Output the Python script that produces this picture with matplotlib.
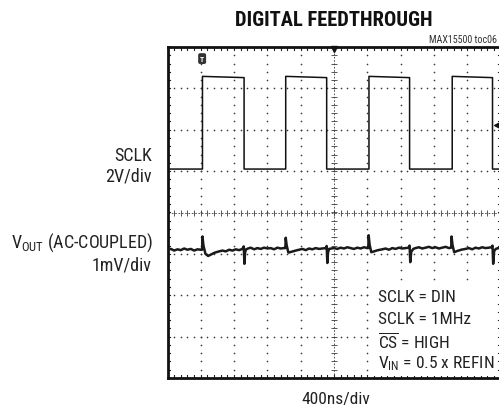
"""
Digital feedthrough scope capture (SCLK and AC-coupled VOUT)
"""

import numpy as np
import matplotlib
matplotlib.use('Agg')
import matplotlib.pyplot as plt
from matplotlib.patches import Rectangle

plt.rcParams['font.family'] = ['Roboto Condensed', 'DejaVu Sans']
plt.rcParams['mathtext.fontset'] = 'custom'
plt.rcParams['mathtext.rm'] = 'Roboto Condensed'
plt.rcParams['mathtext.it'] = 'Roboto Condensed:italic'
plt.rcParams['mathtext.bf'] = 'Roboto Condensed:bold'

# ---------------------------------------------------------------------------- #
# Data (screen divisions: x 0..10, y -4..4)
# ---------------------------------------------------------------------------- #
clk_rise = [1.05, 3.55, 6.05, 8.55]
clk_fall = [2.30, 4.78, 7.27, 9.76]
clk_low = 1.05
clk_high_start = 3.29
clk_high_end = 3.26

vout_t = [0.00, 0.10, 0.20, 0.30, 0.40, 0.50, 0.60, 0.70, 0.80, 0.90, 1.00,
          1.04, 1.05, 1.08, 1.14, 1.22, 1.32, 1.42, 1.55, 1.65, 1.75, 1.85,
          1.95, 2.05, 2.15, 2.25, 2.29, 2.31, 2.33, 2.36, 2.42, 2.50, 2.60,
          2.70, 2.80, 2.90, 3.00, 3.10, 3.20, 3.30, 3.40, 3.50, 3.54, 3.55,
          3.58, 3.63, 3.72, 3.85, 3.95, 4.05, 4.15, 4.25, 4.35, 4.45, 4.55,
          4.65, 4.75, 4.78, 4.80, 4.82, 4.85, 4.92, 5.00, 5.10, 5.20, 5.30,
          5.40, 5.50, 5.60, 5.70, 5.80, 5.90, 6.00, 6.03, 6.04, 6.07, 6.12,
          6.20, 6.32, 6.45, 6.55, 6.65, 6.75, 6.85, 6.95, 7.05, 7.15, 7.24,
          7.27, 7.29, 7.32, 7.38, 7.45, 7.55, 7.65, 7.75, 7.85, 7.95, 8.05,
          8.15, 8.25, 8.35, 8.45, 8.52, 8.53, 8.56, 8.61, 8.70, 8.82, 8.95,
          9.05, 9.15, 9.25, 9.35, 9.45, 9.55, 9.65, 9.73, 9.76, 9.78, 9.81,
          9.86, 9.93, 10.00]
vout_v = [-0.90, -0.88, -0.92, -0.89, -0.91, -0.87, -0.90, -0.88, -0.92, -0.89, -0.90,
          -0.90, -0.58, -0.80, -1.00, -1.05, -1.01, -0.97, -0.94, -0.92, -0.94, -0.90,
          -0.92, -0.89, -0.91, -0.88, -0.82, -1.24, -0.96, -0.89, -0.87, -0.85, -0.89,
          -0.86, -0.88, -0.85, -0.87, -0.86, -0.89, -0.85, -0.87, -0.86, -0.86, -0.61,
          -0.80, -0.97, -0.95, -0.92, -0.90, -0.88, -0.91, -0.87, -0.89, -0.86, -0.88,
          -0.87, -0.86, -0.81, -1.22, -0.97, -0.88, -0.87, -0.86, -0.88, -0.85, -0.87,
          -0.84, -0.86, -0.88, -0.85, -0.87, -0.84, -0.86, -0.86, -0.55, -0.78, -0.96,
          -0.94, -0.91, -0.89, -0.87, -0.90, -0.86, -0.88, -0.85, -0.87, -0.86, -0.85,
          -0.80, -1.20, -0.95, -0.88, -0.86, -0.84, -0.87, -0.85, -0.83, -0.86, -0.84,
          -0.87, -0.85, -0.83, -0.86, -0.85, -0.58, -0.79, -0.96, -0.93, -0.90, -0.88,
          -0.86, -0.89, -0.85, -0.87, -0.84, -0.86, -0.85, -0.84, -0.80, -1.24, -0.93,
          -0.88, -0.86, -0.87]

notes = [r'SCLK = DIN', r'SCLK = 1MHz', r'$\overline{\mathrm{CS}}$ = HIGH',
         r'V$_{\mathrm{IN}}$ = 0.5 x REFIN']

# ---------------------------------------------------------------------------- #
# Build clock trace from edges
# ---------------------------------------------------------------------------- #
clk_t = [0.0]
clk_v = [clk_low]
for r, f in zip(clk_rise, clk_fall):
    clk_t += [r, r, f, f]
    clk_v += [clk_low, clk_high_start, clk_high_end, clk_low]
clk_t.append(10.0)
clk_v.append(clk_low)

# ---------------------------------------------------------------------------- #
# Figure
# ---------------------------------------------------------------------------- #
fig = plt.figure(figsize=(4.99, 4.10), dpi=100)
ax = fig.add_axes([167.5 / 499, 31 / 410, 333 / 499, 331 / 410])
ax.set_xlim(0, 10)
ax.set_ylim(-4, 4)
ax.set_xticks([])
ax.set_yticks([])
for s in ax.spines.values():
    s.set_linewidth(2.0)
    s.set_color('#111111')

grid_col = '#3a3a3a'
# dotted graticule
minor_x = np.arange(0, 10.01, 0.2)
minor_y = np.arange(-4, 4.01, 0.2)
for gx in range(1, 10):
    if gx == 5:
        continue
    ax.plot([gx] * len(minor_y), minor_y, ls='none', marker='o', ms=1.2,
            color=grid_col, mew=0, zorder=1)
for gy in range(-3, 4):
    if gy == 0:
        continue
    ax.plot(minor_x, [gy] * len(minor_x), ls='none', marker='o', ms=1.2,
            color=grid_col, mew=0, zorder=1)

# centre cross with ticks
ax.plot(minor_x, [0] * len(minor_x), ls='none', marker='|', ms=4, mew=0.6,
        color=grid_col, zorder=1)
ax.plot([5] * len(minor_y), minor_y, ls='none', marker='_', ms=4, mew=0.6,
        color=grid_col, zorder=1)
ax.axhline(0, color=grid_col, lw=0.6, ls=(0, (2, 2)), zorder=1)
ax.axvline(5, color=grid_col, lw=0.6, ls=(0, (2, 2)), zorder=1)

# edge ticks
for yy in (-4, 4):
    sgn = 1 if yy < 0 else -1
    for mx in minor_x:
        ax.plot([mx, mx], [yy, yy + sgn * 0.07], color='#222222', lw=0.8, zorder=1)
for my in minor_y:
    ax.plot([0, 0.08], [my, my], color='#222222', lw=0.8, zorder=1)
    ax.plot([9.92, 10], [my, my], color='#222222', lw=0.8, zorder=1)

# traces
ax.plot(clk_t, clk_v, color='#111111', lw=1.1, zorder=3)
ax.plot(vout_t, vout_v, color='#1a1a1a', lw=1.8, zorder=3, solid_joinstyle='round')

# markers
ax.text(1.04, 3.72, 'T', color='white', fontsize=5.5, fontweight='bold',
        ha='center', va='center', zorder=5,
        bbox=dict(boxstyle='round,pad=0.25', fc='#333333', ec='none'))
ax.plot([9.88], [2.12], marker='<', ms=5, color='#111111', zorder=5, clip_on=False)
ax.plot([5], [3.96], marker='v', ms=4, color='#111111', zorder=5, clip_on=False)

# notes box
ax.add_patch(Rectangle((6.15, -3.95), 3.72, 2.22, fc='white', ec='none', zorder=2))
note_y = [-2.02, -2.57, -3.10, -3.62]
for txt, ny in zip(notes, note_y):
    ax.text(6.33, ny, txt, fontsize=12.5, ha='left', va='center', color='#222222',
            zorder=4)

# ---------------------------------------------------------------------------- #
# Labels
# ---------------------------------------------------------------------------- #
fig.text(334 / 499, 1 - 20 / 410, 'DIGITAL FEEDTHROUGH', fontsize=14.8,
         fontweight='bold', ha='center', va='center', color='#111111')
fig.text(429 / 499, 1 - 40 / 410, 'MAX15500 toc06', fontsize=7.2, ha='left',
         va='center', color='#333333')
fig.text(152 / 499, 1 - 156 / 410, 'SCLK', fontsize=13, ha='right', va='center',
         color='#222222')
fig.text(152 / 499, 1 - 177 / 410, '2V/div', fontsize=13, ha='right', va='center',
         color='#222222')
fig.text(153 / 499, 1 - 243 / 410, r'V$_{\mathrm{OUT}}$ (AC-COUPLED)', fontsize=13,
         ha='right', va='center', color='#222222')
fig.text(152 / 499, 1 - 265 / 410, '1mV/div', fontsize=13, ha='right', va='center',
         color='#222222')
fig.text(336 / 499, 1 - 400 / 410, '400ns/div', fontsize=12.5, ha='center',
         va='center', color='#222222')

fig.savefig('out.png', dpi=100)
plt.close()
